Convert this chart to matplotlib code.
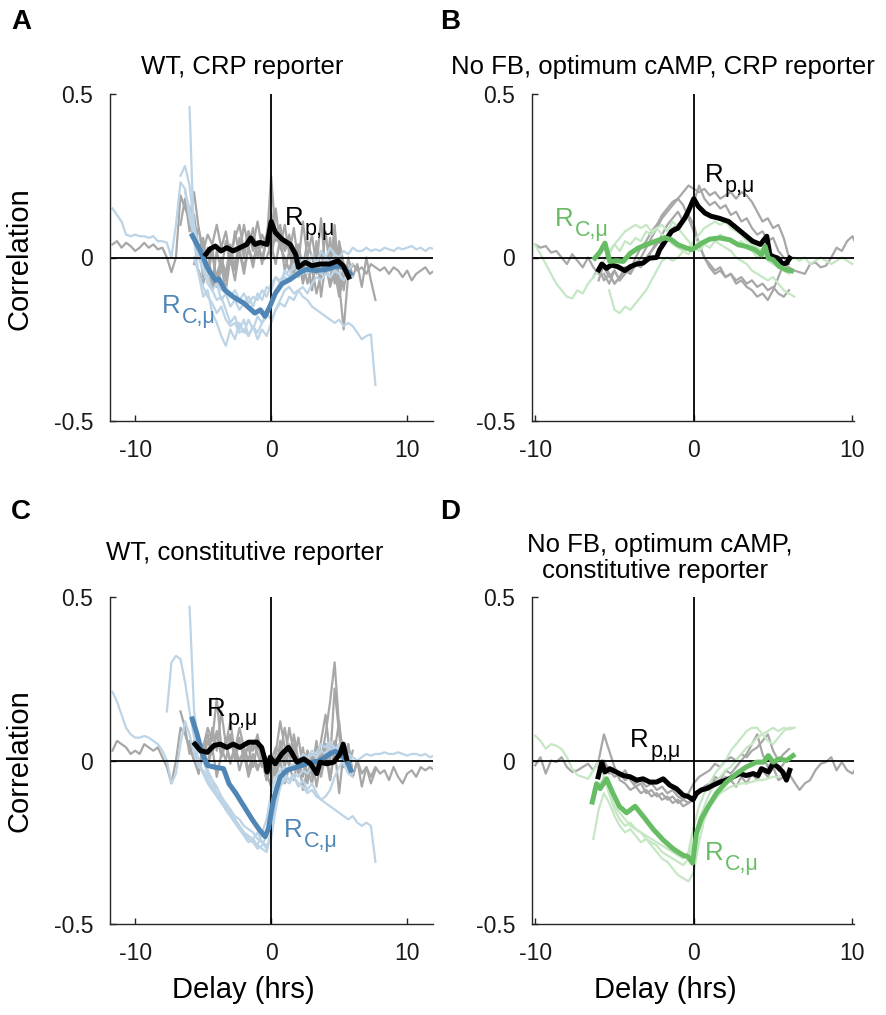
import numpy as np
import matplotlib
matplotlib.use("Agg")
import matplotlib.pyplot as plt

plt.rcParams['font.family'] = ['Liberation Sans', 'DejaVu Sans']

DT = 1.0 / 3.0

# ---------------- Panel A: WT, CRP reporter ----------------
A_grey1_start = -11.667
A_grey1 = [0.04, 0.05, 0.03, 0.045, 0.035, 0.02, 0.03, 0.045, 0.03, 0.04, 0.025, 0.03,
           0.0, -0.045, 0.0, 0.19, 0.15, 0.12, 0.05, 0.09, 0.02, 0.07,
           0.04, 0.1, 0.03, 0.08, 0.0, 0.06, 0.1, 0.02, 0.08, 0.04,
           0.11, 0.03, 0.07, 0.14, 0.05, 0.08, 0.02, 0.06, -0.02, 0.04,
           -0.03, 0.05, 0.0, -0.05, 0.02, -0.04, 0.03, -0.06, 0.05, -0.02]
A_grey2_start = -5.667
A_grey2 = [-0.02, 0.04, -0.06, 0.03, -0.08, 0.02, -0.04, 0.05, -0.02, 0.08,
           0.01, 0.1, 0.03, 0.09, 0.0, 0.07, 0.04, 0.25, 0.06, 0.1,
           0.02, 0.07, -0.03, 0.04, -0.07, 0.0, -0.1, 0.05, -0.12, -0.02,
           -0.08, 0.06, -0.1, -0.03, -0.05, -0.02, -0.04, -0.03, -0.05, -0.02,
           -0.03, -0.04, -0.03, -0.05, -0.03, -0.04, -0.06, -0.04, -0.07, -0.05,
           -0.04, -0.03, -0.05, -0.04]
A_grey3_start = -6.667
A_grey3 = [0.1, 0.18, 0.08, 0.13, 0.02, 0.06, -0.04, 0.03, -0.08, 0.0,
           -0.05, 0.04, -0.03, 0.06, 0.0, 0.08, 0.02, 0.05, -0.02, 0.06,
           0.0, 0.08, 0.03, 0.1, 0.01, 0.09, -0.02, 0.11, 0.0, 0.07,
           -0.03, 0.12, -0.05, 0.06, -0.08, 0.04, -0.1, 0.0, -0.06, -0.02,
           -0.09, 0.0, -0.07, -0.13]
A_grey4_start = -6.0
A_grey4 = [0.12, 0.2, 0.09, 0.0, -0.06, 0.02, -0.09, -0.03, -0.1, 0.0,
           -0.07, 0.02, -0.05, 0.03, -0.03, 0.05, -0.01, 0.0, 0.04, -0.02,
           0.06, -0.04, 0.02, -0.06, 0.0, -0.08, -0.02, -0.1, 0.03, -0.06,
           0.08, -0.04, 0.1, -0.08, -0.22, -0.05, -0.02]
A_grey5_start = -5.333
A_grey5 = [-0.04, -0.08, -0.02, -0.1, -0.05, -0.01, -0.07, 0.0, -0.04, 0.02,
           -0.03, 0.03, -0.01, 0.04, 0.0, 0.05, 0.02, 0.15, 0.03, 0.0,
           -0.04, 0.02, -0.06, -0.01, -0.08, -0.03, -0.11, -0.05, -0.02, -0.09,
           -0.04, -0.12, -0.06, -0.03]

A_blue1_start = -11.667
A_blue1 = [0.15, 0.13, 0.11, 0.07, 0.065, 0.07, 0.065, 0.065, 0.06, 0.065, 0.05, 0.05,
           0.045, 0.0, 0.1, 0.23, 0.21, 0.12, 0.06, 0.0, -0.04, -0.08,
           -0.1, -0.13, -0.12, -0.16, -0.2, -0.18, -0.22, -0.19, -0.24, -0.21,
           -0.25, -0.22, -0.24, -0.2,
           -0.16, -0.14, -0.15, -0.12, -0.13, -0.1, -0.09, -0.11, -0.08, -0.06,
           -0.07, -0.05, -0.06, -0.04, -0.05, -0.03, -0.04, -0.02]
A_blue2_start = -6.0
A_blue2 = [0.46, 0.05, -0.05, -0.12, -0.1, -0.17, -0.2, -0.24, -0.27, -0.22,
           -0.25, -0.2, -0.23, -0.19, -0.22, -0.18, -0.2, -0.17, -0.19, -0.16,
           -0.13, -0.1, -0.09, -0.11, -0.1, -0.12, -0.13, -0.15, -0.16, -0.17,
           -0.18, -0.19, -0.2, -0.19, -0.21, -0.2, -0.21, -0.23, -0.25, -0.24,
           -0.235, -0.39]
A_blue3_start = -6.333
A_blue3 = [0.2, 0.15, 0.08, 0.02, -0.03, -0.06, -0.05, -0.08, -0.1, -0.09,
           -0.12, -0.1, -0.13, -0.11, -0.14, -0.12, -0.13, -0.1, -0.12, -0.08,
           -0.06, -0.07, -0.05, -0.04, -0.06, -0.03, -0.05, -0.02, -0.04, -0.01,
           -0.03, 0.0, -0.02, 0.01, 0.0, 0.02, 0.01, 0.03, 0.02, 0.02,
           0.03, 0.02, 0.025, 0.02, 0.03, 0.025, 0.02, 0.03, 0.025, 0.03,
           0.035, 0.025, 0.03, 0.02, 0.03, 0.025]
A_blue4_start = -5.667
A_blue4 = [0.0, -0.05, -0.09, -0.12, -0.14, -0.17, -0.15, -0.19, -0.21, -0.2,
           -0.23, -0.22, -0.24, -0.21, -0.23, -0.2, -0.18, -0.14, -0.1, -0.08,
           -0.06, -0.07, -0.05, -0.06, -0.04, -0.05, -0.03, -0.04, -0.05, -0.03,
           -0.06, -0.04, -0.05, -0.07, -0.05, -0.06]
A_blue5_start = -6.667
A_blue5 = [0.25, 0.28, 0.22, 0.1, 0.03, -0.02, -0.06, -0.1, -0.08, -0.13,
           -0.11, -0.15, -0.13, -0.16, -0.14, -0.12, -0.15, -0.11, -0.13, -0.09,
           -0.1, -0.06, -0.08, -0.04, -0.06, -0.02, -0.04, 0.0, -0.03, 0.01,
           -0.02, 0.02, 0.0, 0.03, 0.01, 0.0]

A_rc_t = [-5.8, -5.2, -4.7, -4.1, -3.85, -3.4, -2.8, -2.0, -1.2, -0.8, -0.45, -0.1,
          0.3, 0.8, 1.4, 2.1, 2.6, 3.3, 4.1, 4.8, 5.3, 5.8]
A_rc_v = [0.067, 0.02, -0.03, -0.07, -0.065, -0.10, -0.12, -0.14, -0.17, -0.16, -0.18, -0.15,
          -0.11, -0.08, -0.067, -0.046, -0.036, -0.04, -0.036, -0.026, -0.03, -0.05]
A_rp_t = [-4.8, -4.5, -4.1, -3.7, -3.25, -2.8, -2.3, -1.8, -1.5, -1.2, -0.8, -0.3, 0.0,
          0.3, 0.8, 1.4, 1.8, 2.0, 2.5, 3.0, 3.6, 4.3, 4.9, 5.3, 5.7]
A_rp_v = [0.01, 0.026, 0.035, 0.02, 0.03, 0.02, 0.03, 0.04, 0.06, 0.04, 0.046, 0.04, 0.11,
          0.077, 0.056, 0.04, 0.01, -0.03, -0.015, -0.025, -0.02, -0.02, -0.01, -0.025, -0.06]

# ---------------- Panel B: No FB, optimum cAMP, CRP reporter ----------------
B_grey1_start = -10.0
B_grey1 = [0.04, 0.03, 0.035, 0.015, 0.02, 0.0, -0.02, 0.01, -0.01, -0.03,
           0.0, -0.03, -0.05, -0.03, -0.06, -0.04, -0.07, -0.05, -0.03, -0.02,
           0.0, 0.03, 0.06, 0.09, 0.12, 0.14, 0.16, 0.18, 0.2, 0.22,
           0.21, 0.2, 0.21, 0.19, 0.2, 0.18, 0.19, 0.2, 0.18, 0.2,
           0.19, 0.17, 0.14, 0.11, 0.12, 0.09, 0.1, 0.06, 0.0]
B_grey2_start = -6.0
B_grey2 = [-0.07, -0.02, -0.05, -0.08, -0.06, -0.03, -0.04, 0.0, 0.03, 0.05,
           0.08, 0.1, 0.13, 0.15, 0.17, 0.18, 0.16,
           0.12,
           0.08, 0.04, 0.0, -0.02, -0.04, -0.03, -0.06, -0.05, -0.08, -0.07,
           -0.09, -0.1, -0.12, -0.11, -0.13, -0.1, -0.06,
           -0.02, -0.03, -0.04, -0.045, -0.05, -0.02, -0.015, -0.03, -0.025, 0.0,
           0.03, 0.02, 0.05, 0.065, 0.03]
B_grey3_start = -6.333
B_grey3 = [-0.06, -0.03, -0.07, -0.05, -0.08, -0.06, -0.04, -0.05, -0.02, -0.03,
           0.0, 0.02, 0.05, 0.04, 0.07, 0.09, 0.1, 0.12, 0.15, 0.17,
           0.22, 0.18, 0.16, 0.17, 0.15, 0.16, 0.13, 0.14, 0.11, 0.12,
           0.09, 0.07, 0.08, 0.05, 0.06, 0.02, 0.0, -0.02]
B_grey4_start = -5.667
B_grey4 = [-0.05, -0.08, -0.04, -0.07, -0.03, -0.05, -0.02, 0.0, -0.01, 0.02,
           0.04, 0.07, 0.1, 0.12, 0.14, 0.11, 0.13, 0.1, 0.04, 0.0,
           -0.03, -0.05, -0.04, -0.06, -0.05, -0.07, -0.06, -0.08, -0.07, -0.09,
           -0.08, -0.1, -0.09, -0.11, -0.12, -0.1]

B_green1_start = -10.0
B_green1 = [0.04, 0.01, -0.02, -0.05, -0.08, -0.1, -0.12, -0.125, -0.1, -0.11,
            -0.08, -0.06, -0.04, -0.01, 0.02, 0.04, 0.06, 0.08, 0.09, 0.1,
            0.09, 0.1, 0.08, 0.09, 0.07, 0.06, 0.04, 0.03, 0.02, 0.03,
            0.05, 0.07, 0.09, 0.1, 0.11, 0.1, 0.11, 0.09, 0.08, 0.07,
            0.05, 0.04, 0.03, 0.02, 0.0, -0.01, 0.0, -0.02, -0.01, 0.0,
            -0.01, 0.0, -0.02, -0.01, 0.0, -0.01, -0.02, -0.01, 0.0, -0.01, -0.02]
B_green2_start = -5.333
B_green2 = [-0.1, -0.16, -0.17, -0.15, -0.16, -0.14, -0.12, -0.1, -0.07, -0.04,
            -0.01, 0.0, -0.01, 0.0, 0.02, 0.01, 0.03, 0.02, 0.04, 0.03,
            0.05, 0.04, 0.03, 0.02, 0.0, -0.01, -0.02, -0.04, -0.05, -0.06,
            -0.07, -0.06, -0.08, -0.1, -0.11, -0.12]
B_green3_start = -6.0
B_green3 = [0.0, 0.03, 0.01, 0.04, 0.02, 0.05, 0.04, 0.06, 0.05, 0.08,
            0.07, 0.09, 0.1, 0.08, 0.11, 0.09, 0.07, 0.05, 0.03, 0.05,
            0.04, 0.06, 0.05, 0.07, 0.06, 0.05, 0.04, 0.05, 0.03, 0.02,
            0.0, 0.01, -0.01, -0.02, -0.03, -0.04, -0.05]

B_rc_t = [-6.24, -5.9, -5.6, -5.3, -4.9, -4.45, -4.0, -3.5, -3.0, -2.35, -1.8, -1.4, -1.0,
          -0.46, -0.15, 0.06, 0.5, 1.0, 1.64, 2.27, 2.8, 3.3, 3.85, 4.26, 4.5, 4.7, 5.0,
          5.4, 5.85, 6.15]
B_rc_v = [-0.002, 0.018, 0.044, -0.012, -0.01, -0.012, 0.013, 0.029, 0.039, 0.051, 0.06,
          0.054, 0.039, 0.029, 0.024, 0.029, 0.044, 0.056, 0.06, 0.054, 0.039, 0.034, 0.024,
          0.008, 0.034, -0.002, -0.007, -0.028, -0.038, -0.041]
B_rp_t = [-6.0, -5.8, -5.5, -5.2, -4.8, -4.35, -4.0, -3.6, -3.2, -2.8, -2.35, -2.15, -1.8,
          -1.4, -1.0, -0.57, -0.36, 0.0, 0.27, 0.7, 1.1, 1.6, 2.2, 2.7, 3.2, 3.7, 4.2, 4.6,
          4.8, 5.0, 5.3, 5.6, 5.85, 6.05]
B_rp_v = [-0.038, -0.02, -0.033, -0.023, -0.028, -0.04, -0.028, -0.02, -0.017, -0.002, 0.0,
          0.024, 0.05, 0.08, 0.09, 0.12, 0.14, 0.18, 0.157, 0.136, 0.126, 0.12, 0.11, 0.09,
          0.07, 0.05, 0.04, 0.065, 0.008, 0.003, -0.002, -0.02, -0.017, -0.002]

# ---------------- Panel C: WT, constitutive reporter ----------------
C_grey1_start = -11.667
C_grey1 = [0.03, 0.06, 0.05, 0.04, 0.02, 0.03, 0.02, 0.05, 0.04, 0.03, 0.04, 0.01,
           -0.02, -0.07, 0.0, 0.1, 0.08, 0.04, 0.0, 0.06, 0.02, 0.08,
           0.03, 0.09, 0.01, 0.05, 0.12, 0.02, 0.07, 0.0, 0.05, 0.03,
           0.08, 0.0, -0.03, 0.02, -0.04, 0.06, 0.0, 0.1, 0.02, -0.03,
           0.04, -0.05, 0.02, -0.08, 0.0, 0.05, -0.06, 0.03, 0.12, -0.02,
           0.05, -0.04]
C_grey2_start = -5.667
C_grey2 = [0.02, -0.04, 0.05, -0.02, 0.1, 0.03, 0.15, 0.05, 0.08, 0.0,
           0.06, 0.02, 0.04, -0.02, 0.05, 0.0, -0.04, -0.08, 0.02, 0.12,
           0.04, -0.02, 0.08, 0.0, -0.05, 0.03, -0.03, 0.06, -0.04, 0.05,
           0.0, 0.22, 0.08, -0.02, 0.05, -0.05, 0.0, -0.08, -0.02, -0.05,
           -0.02, -0.04, -0.03, -0.06, -0.02, -0.05, -0.07, -0.04, -0.03, -0.05,
           -0.02, -0.03, -0.02, -0.03]
C_grey3_start = -6.667
C_grey3 = [0.15, 0.1, 0.02, 0.06, -0.02, 0.04, 0.1, 0.06, 0.19, 0.04,
           0.0, 0.07, 0.03, 0.1, 0.04, 0.0, 0.06, 0.02, -0.02, 0.0,
           0.0, 0.04, 0.02, 0.1, 0.01, 0.05, -0.04, 0.0, -0.07, 0.02,
           -0.04, 0.06, 0.14, 0.01, 0.06, 0.03, -0.02, 0.04, -0.05, 0.0,
           -0.04, -0.02, -0.07, -0.03]
C_grey4_start = -6.0
C_grey4 = [0.06, 0.0, -0.04, 0.03, -0.02, 0.04, -0.05, 0.02, 0.06, -0.01,
           0.04, 0.0, 0.03, -0.03, 0.02, -0.02, 0.0, -0.06, -0.02, -0.05,
           0.0, -0.07, -0.02, -0.06, 0.01, -0.09, -0.03, -0.07, 0.0, -0.05,
           0.02, -0.06, 0.04, -0.1, 0.03, -0.02, 0.03]
C_grey5_start = -5.333
C_grey5 = [0.04, 0.0, 0.06, 0.02, 0.08, 0.03, 0.05, 0.0, 0.04, -0.03,
           0.02, -0.05, 0.0, -0.03, 0.01, -0.06, 0.0, -0.04, 0.03, -0.02,
           0.05, 0.0, 0.07, -0.02, 0.03, -0.05, 0.05, 0.0, 0.08, 0.18,
           0.3, 0.1, 0.02, 0.0]

C_blue1_start = -11.667
C_blue1 = [0.21, 0.18, 0.14, 0.1, 0.08, 0.07, 0.07, 0.075, 0.07, 0.06, 0.05, 0.03,
           0.0, -0.07, -0.04, 0.05, 0.12, 0.08, 0.02, -0.02, -0.03, -0.05,
           -0.08, -0.1, -0.12, -0.14, -0.16, -0.18, -0.2, -0.22, -0.24, -0.25,
           -0.26, -0.27, -0.28, -0.22, -0.12, -0.06, -0.03, -0.02, -0.01, 0.0,
           0.01, 0.0, 0.02, 0.01, 0.03, 0.02, 0.04, 0.02, 0.05, 0.03,
           0.0, -0.04]
C_blue2_start = -6.0
C_blue2 = [0.47, 0.15, 0.05, 0.02, -0.03, -0.06, -0.1, -0.12, -0.15, -0.17,
           -0.19, -0.21, -0.22, -0.24, -0.25, -0.27, -0.26, -0.23, -0.15, -0.08,
           -0.05, -0.04, -0.06, -0.05, -0.07, -0.08, -0.1, -0.09, -0.11, -0.12,
           -0.13, -0.14, -0.15, -0.16, -0.17, -0.18, -0.17, -0.19, -0.2, -0.19,
           -0.2, -0.31]
C_blue3_start = -7.667
C_blue3 = [0.15, 0.3, 0.32, 0.31, 0.24, 0.15, 0.07, 0.0, -0.04, -0.07,
           -0.09, -0.11, -0.13, -0.15, -0.17, -0.19, -0.21, -0.23, -0.25, -0.24,
           -0.26, -0.22, -0.18, -0.1, -0.05, -0.03, -0.02, -0.03, -0.01, 0.0,
           0.02, 0.01, 0.03, 0.02, 0.05, 0.04, 0.06, 0.03, 0.05, 0.0,
           0.02, 0.01, 0.0, 0.01, 0.02, 0.015, 0.02, 0.02, 0.025, 0.02,
           0.02, 0.025, 0.02, 0.015, 0.02, 0.02, 0.015, 0.02, 0.01, 0.015]
C_blue4_start = -5.667
C_blue4 = [0.05, 0.0, -0.04, -0.06, -0.08, -0.1, -0.12, -0.14, -0.15, -0.17,
           -0.18, -0.2, -0.21, -0.22, -0.24, -0.25, -0.26, -0.24, -0.15, -0.08,
           -0.05, -0.06, -0.04, -0.05, -0.03, -0.04, -0.02, -0.03, 0.0, 0.02,
           0.05, 0.04, 0.03, -0.01, -0.04, -0.05]
C_blue5_start = -5.0
C_blue5 = [0.0, -0.04, -0.06, -0.08, -0.11, -0.13, -0.15, -0.18, -0.2, -0.22,
           -0.23, -0.24, -0.22, -0.25, -0.27, -0.22, -0.12, -0.08, -0.06, -0.07,
           -0.05, -0.08, -0.06, -0.09, -0.07, -0.1, -0.12, -0.11, -0.09, -0.05,
           -0.02, 0.0, 0.01, 0.0]

C_rc_t = [-5.8, -5.45, -5.1, -4.7, -4.2, -3.5, -3.1, -2.6, -2.0, -1.4, -0.9, -0.44, -0.2,
          0.17, 0.66, 1.15, 1.9, 2.6, 3.1, 3.6, 4.3, 4.7, 5.1, 5.55, 5.85]
C_rc_v = [0.127, 0.081, 0.025, -0.015, -0.02, -0.025, -0.071, -0.10, -0.14, -0.18, -0.21,
          -0.233, -0.208, -0.12, -0.05, -0.03, -0.02, -0.01, -0.005, 0.0, 0.02, 0.028, 0.02,
          0.0, -0.03]
C_rp_t = [-5.6, -5.2, -4.7, -4.2, -3.75, -3.25, -2.8, -2.3, -1.66, -1.05, -0.7, -0.44, -0.3,
          -0.07, 0.3, 0.78, 1.27, 1.5, 1.9, 2.4, 2.9, 3.35, 3.6, 4.1, 4.6, 5.06, 5.3, 5.55]
C_rp_v = [0.05, 0.03, 0.025, 0.046, 0.05, 0.04, 0.05, 0.04, 0.056, 0.056, 0.04, 0.0, -0.035,
          0.01, -0.01, 0.02, 0.04, 0.025, -0.005, 0.005, -0.01, -0.04, -0.005, -0.01, -0.005,
          0.02, 0.05, 0.005]

# ---------------- Panel D: No FB, optimum cAMP, constitutive reporter ----------------
D_grey1_start = -10.0
D_grey1 = [-0.015, 0.01, -0.04, 0.0, -0.005, 0.01, -0.02, -0.035, -0.03, -0.02,
           -0.01, -0.03, 0.0, 0.08, 0.03, -0.02, -0.06, -0.07, -0.09, -0.08,
           -0.1, -0.09, -0.11, -0.1, -0.12, -0.11, -0.13, -0.12, -0.14, -0.13,
           -0.12, -0.1, -0.08, -0.07, -0.05, -0.06, -0.03, -0.04, -0.02, 0.0,
           0.02, 0.05, 0.08, 0.02, -0.02, 0.0, -0.03, -0.01]
D_grey2_start = -6.0
D_grey2 = [-0.03, -0.01, -0.04, -0.02, -0.05, -0.03, -0.06, -0.08, -0.07, -0.1,
           -0.09, -0.11, -0.1, -0.12, -0.11, -0.13, -0.12,
           -0.13,
           -0.11, -0.1, -0.08, -0.09, -0.06, -0.07, -0.05, -0.06, -0.08, -0.05,
           -0.07, -0.04, -0.06, -0.03, -0.05, -0.02, -0.06, -0.05, -0.04,
           -0.066, -0.09, -0.07, -0.06, -0.03, -0.01, -0.005, 0.01, -0.03, -0.005,
           -0.03, -0.04, -0.015]
D_grey3_start = -6.0
D_grey3 = [-0.02, 0.0, -0.03, -0.05, -0.04, -0.06, -0.05, -0.07, -0.06, -0.08,
           -0.07, -0.09, -0.08, -0.1, -0.09, -0.11, -0.12, -0.1, -0.07, -0.05,
           -0.04, -0.03, -0.01, -0.02, 0.0, 0.01, 0.0, 0.02, 0.01, 0.03,
           0.04, 0.06, 0.08, 0.03, 0.0, 0.02, 0.035]

D_green1_start = -10.0
D_green1 = [0.076, 0.06, 0.036, 0.05, 0.045, 0.035, 0.01, -0.025, -0.045, -0.05,
            -0.056, -0.03, 0.0, -0.05, -0.1, -0.14, -0.16, -0.18, -0.2, -0.21,
            -0.22, -0.24, -0.25, -0.26, -0.28, -0.29, -0.3, -0.31, -0.32, -0.3,
            -0.24, -0.18, -0.14, -0.1, -0.07, -0.05, -0.03, -0.02, 0.0, 0.02,
            0.04, 0.05, 0.07, 0.08, 0.09, 0.1, 0.09, 0.1, 0.095, 0.1]
D_green2_start = -6.333
D_green2 = [-0.24, -0.15, -0.1, -0.13, -0.17, -0.2, -0.22, -0.21, -0.23, -0.25,
            -0.24, -0.26, -0.28, -0.3, -0.31, -0.33, -0.35, -0.36, -0.37, -0.34,
            -0.25, -0.18, -0.14, -0.12, -0.1, -0.09, -0.08, -0.075, -0.07, -0.07,
            -0.065, -0.06, -0.06, -0.055, -0.05, -0.05, -0.04, -0.03]
D_green3_start = -6.0
D_green3 = [-0.08, -0.05, -0.1, -0.15, -0.18, -0.2, -0.19, -0.21, -0.22, -0.23,
            -0.24, -0.25, -0.26, -0.27, -0.28, -0.29, -0.3, -0.28, -0.2, -0.14,
            -0.1, -0.07, -0.04, -0.02, 0.0, 0.03, 0.05, 0.07, 0.09, 0.1,
            0.1, 0.08, 0.06, 0.05, 0.07, 0.09, 0.1, 0.1]

D_rc_t = [-6.4, -6.13, -5.9, -5.5, -5.1, -4.7, -4.24, -3.7, -3.2, -2.56, -1.93, -1.3, -0.67,
          -0.36, -0.08, 0.17, 0.48, 0.9, 1.43, 2.06, 2.7, 3.3, 3.95, 4.4, 4.7, 5.0, 5.4, 5.84,
          6.26]
D_rc_v = [-0.127, -0.071, -0.086, -0.056, -0.10, -0.14, -0.16, -0.14, -0.17, -0.21, -0.243,
          -0.27, -0.29, -0.294, -0.314, -0.223, -0.178, -0.142, -0.10, -0.066, -0.04, -0.02,
          -0.005, -0.005, 0.015, -0.005, 0.005, 0.0, 0.015]
D_rp_t = [-6.03, -5.8, -5.6, -5.3, -4.9, -4.45, -4.0, -3.6, -3.2, -2.77, -2.35, -1.93, -1.5,
          -1.1, -0.67, -0.36, -0.04, 0.17, 0.48, 0.8, 1.2, 1.64, 2.06, 2.48, 2.9, 3.3, 3.74,
          4.05, 4.26, 4.7, 5.0, 5.3, 5.6, 5.84, 6.05]
D_rp_v = [-0.05, -0.005, -0.035, -0.025, -0.035, -0.046, -0.05, -0.06, -0.056, -0.066,
          -0.066, -0.056, -0.076, -0.086, -0.106, -0.11, -0.12, -0.10, -0.09, -0.086, -0.076,
          -0.066, -0.06, -0.05, -0.04, -0.046, -0.04, -0.046, -0.025, -0.035, -0.01, -0.02,
          -0.035, -0.06, -0.03]

# ---------------- styling ----------------
GREY = '#a7a7a7'
LBLUE = '#bcd4e6'
LGREEN = '#c6e7c4'
BLUE = '#4f86b5'
GREEN = '#66bd64'
SPINE = '#262626'

W, H = 886, 1015
fig = plt.figure(figsize=(W / 100, H / 100), dpi=100)


def axes_px(left, top, right, bottom):
    return fig.add_axes([left / W, 1 - bottom / H, (right - left) / W, (bottom - top) / H])


axA = axes_px(110, 94, 433, 421)
axB = axes_px(532, 94, 854, 421)
axC = axes_px(110, 597, 433, 924)
axD = axes_px(532, 597, 854, 924)


def thin(ax, start, vals, color):
    t = start + DT * np.arange(len(vals))
    ax.plot(t, vals, color=color, lw=1.6, zorder=1, solid_joinstyle='round')


def style(ax, xlim):
    ax.set_xlim(*xlim)
    ax.set_ylim(-0.5, 0.5)
    for s in ['top', 'right']:
        ax.spines[s].set_visible(False)
    for s in ['left', 'bottom']:
        ax.spines[s].set_color(SPINE)
        ax.spines[s].set_linewidth(1.0)
    ax.set_xticks([-10, 0, 10])
    ax.set_xticklabels(['-10', '0', '10'])
    ax.set_yticks([-0.5, 0, 0.5])
    ax.set_yticklabels(['-0.5', '0', '0.5'])
    ax.tick_params(direction='in', length=4, width=1, color=SPINE, labelsize=16.5,
                   labelcolor='#1a1a1a')
    ax.tick_params(axis='x', pad=13)
    ax.tick_params(axis='y', pad=12)
    ax.axhline(0, color='k', lw=1.3, zorder=2)
    ax.axvline(0, color='k', lw=1.3, zorder=2)


def rlabel(ax, t, v, sub, color):
    r = ax.text(t, v, 'R', color=color, fontsize=18.5, ha='left', va='baseline', zorder=5)
    ax.annotate(sub, xy=(1, 0), xycoords=r, xytext=(1, -7), textcoords='offset points',
                color=color, fontsize=15.5, ha='left', va='bottom', zorder=5)


# Panel A
for st, vals in [(A_grey1_start, A_grey1), (A_grey2_start, A_grey2), (A_grey3_start, A_grey3),
                 (A_grey4_start, A_grey4), (A_grey5_start, A_grey5)]:
    thin(axA, st, vals, GREY)
for st, vals in [(A_blue1_start, A_blue1), (A_blue2_start, A_blue2), (A_blue3_start, A_blue3),
                 (A_blue4_start, A_blue4), (A_blue5_start, A_blue5)]:
    thin(axA, st, vals, LBLUE)
style(axA, (-11.85, 11.9))
axA.plot(A_rc_t, A_rc_v, color=BLUE, lw=3.6, zorder=3, solid_joinstyle='round')
axA.plot(A_rp_t, A_rp_v, color='k', lw=3.6, zorder=4, solid_joinstyle='round')
rlabel(axA, 1.0, 0.1, 'p,μ', 'k')
rlabel(axA, -8.0, -0.171, 'C,μ', BLUE)

# Panel B
for st, vals in [(B_grey1_start, B_grey1), (B_grey2_start, B_grey2), (B_grey3_start, B_grey3),
                 (B_grey4_start, B_grey4)]:
    thin(axB, st, vals, GREY)
for st, vals in [(B_green1_start, B_green1), (B_green2_start, B_green2), (B_green3_start, B_green3)]:
    thin(axB, st, vals, LGREEN)
style(axB, (-10.2, 10.1))
axB.plot(B_rp_t, B_rp_v, color='k', lw=3.6, zorder=3, solid_joinstyle='round')
axB.plot(B_rc_t, B_rc_v, color=GREEN, lw=3.6, zorder=4, solid_joinstyle='round')
rlabel(axB, 0.69, 0.23, 'p,μ', 'k')
rlabel(axB, -8.74, 0.095, 'C,μ', GREEN)

# Panel C
for st, vals in [(C_grey1_start, C_grey1), (C_grey2_start, C_grey2), (C_grey3_start, C_grey3),
                 (C_grey4_start, C_grey4), (C_grey5_start, C_grey5)]:
    thin(axC, st, vals, GREY)
for st, vals in [(C_blue1_start, C_blue1), (C_blue2_start, C_blue2), (C_blue3_start, C_blue3),
                 (C_blue4_start, C_blue4), (C_blue5_start, C_blue5)]:
    thin(axC, st, vals, LBLUE)
style(axC, (-11.85, 11.9))
axC.plot(C_rc_t, C_rc_v, color=BLUE, lw=3.6, zorder=3, solid_joinstyle='round')
axC.plot(C_rp_t, C_rp_v, color='k', lw=3.6, zorder=4, solid_joinstyle='round')
rlabel(axC, -4.7, 0.137, 'p,μ', 'k')
rlabel(axC, 0.9, -0.234, 'C,μ', BLUE)

# Panel D
for st, vals in [(D_grey1_start, D_grey1), (D_grey2_start, D_grey2), (D_grey3_start, D_grey3)]:
    thin(axD, st, vals, GREY)
for st, vals in [(D_green1_start, D_green1), (D_green2_start, D_green2), (D_green3_start, D_green3)]:
    thin(axD, st, vals, LGREEN)
style(axD, (-10.2, 10.1))
axD.plot(D_rp_t, D_rp_v, color='k', lw=3.6, zorder=3, solid_joinstyle='round')
axD.plot(D_rc_t, D_rc_v, color=GREEN, lw=3.6, zorder=4, solid_joinstyle='round')
rlabel(axD, -4.0, 0.04, 'p,μ', 'k')
rlabel(axD, 0.7, -0.304, 'C,μ', GREEN)


def ftext(x, y, s, **kw):
    fig.text(x / W, 1 - y / H, s, **kw)


# titles
ftext(242, 67, 'WT, CRP reporter', fontsize=18.5, ha='center', va='center')
ftext(663, 67, 'No FB, optimum cAMP, CRP reporter', fontsize=18.5, ha='center', va='center')
ftext(245, 553, 'WT, constitutive reporter', fontsize=18.5, ha='center', va='center')
ftext(660, 545, 'No FB, optimum cAMP,', fontsize=18.5, ha='center', va='center')
ftext(655, 571, 'constitutive reporter', fontsize=18.5, ha='center', va='center')

# panel letters
for x, y, s in [(21, 22, 'A'), (450, 22, 'B'), (21, 512, 'C'), (450, 512, 'D')]:
    ftext(x, y, s, fontsize=20, fontweight='bold', ha='center', va='center')

# axis labels
ftext(20, 259, 'Correlation', fontsize=21, rotation=90, ha='center', va='center')
ftext(20, 761, 'Correlation', fontsize=21, rotation=90, ha='center', va='center')
ftext(243, 990, 'Delay (hrs)', fontsize=21, ha='center', va='center')
ftext(665, 990, 'Delay (hrs)', fontsize=21, ha='center', va='center')

fig.savefig('out.png', dpi=100)
